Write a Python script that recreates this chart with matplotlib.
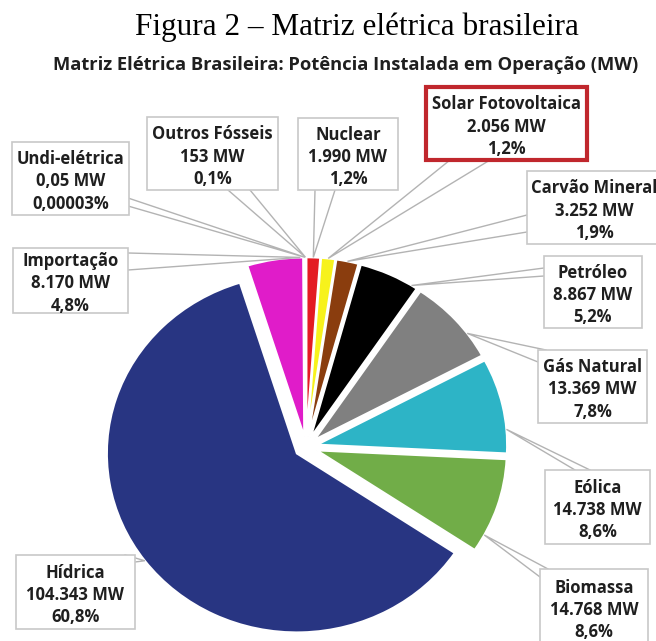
import numpy as np
import matplotlib
matplotlib.use("Agg")
import matplotlib.pyplot as plt
from matplotlib.patches import Rectangle

# dados (MW)
labels = ["Nuclear", "Solar Fotovoltaica", "Carvão Mineral", "Petróleo", "Gás Natural",
          "Eólica", "Biomassa", "Hídrica", "Importação", "Undi-elétrica", "Outros Fósseis"]
mw = [1990, 2056, 3252, 8867, 13369, 14738, 14768, 104343, 8170, 0.05, 153]
mw_text = ["1.990 MW", "2.056 MW", "3.252 MW", "8.867 MW", "13.369 MW", "14.738 MW",
           "14.768 MW", "104.343 MW", "8.170 MW", "0,05 MW", "153 MW"]
pct_text = ["1,2%", "1,2%", "1,9%", "5,2%", "7,8%", "8,6%", "8,6%", "60,8%", "4,8%",
            "0,00003%", "0,1%"]
colors = ["#e31b23", "#f7f21c", "#8a3d0e", "#000000", "#808080", "#2db4c6",
          "#71ad48", "#283582", "#e01cc9", "#c9a0dc", "#f2a0c8"]

# layout das caixas em pixels (x0, y0, w, h), pontos da base do callout,
# e onde a seta toca a fatia (fração do ângulo da fatia)
boxes = [(298, 118, 100, 72), (426, 87, 161, 73), (527, 171, 140, 73), (544, 256, 98, 72),
         (538, 350, 109, 73), (545, 470, 105, 74), (540, 569, 108, 76), (16, 555, 119, 74),
         (13, 248, 115, 65), (12, 142, 117, 73), (147, 117, 131, 73)]
bases = [((315, 190), (335, 190)), ((450, 160), (490, 160)), ((527, 215), (527, 232)),
         ((544, 268), (544, 276)), ((546, 350), (538, 362)), ((575, 470), (590, 470)),
         ((548, 569), (540, 577)), ((125, 555), (135, 562)), ((128, 253), (128, 270)),
         ((128, 198), (128, 206)), ((228, 190), (250, 190))]
touch = [0.5, 0.5, 0.5, 0.9, 0.7, 0.75, 0.82, 0.5, 0.95, 0.5, 0.5]

W, H = 656, 641
fig = plt.figure(figsize=(W / 100, H / 100), dpi=100)

# pie (levemente esticado na horizontal, como no original)
cx, cy = 306, 447
rx, ry = 190, 179
lim = 1.3
ax_pie = fig.add_axes([(cx - lim * rx) / W, (H - cy - lim * ry) / H,
                       2 * lim * rx / W, 2 * lim * ry / H])
wedges, _ = ax_pie.pie(mw, colors=colors, startangle=90, counterclock=False,
                       explode=[0.06] * len(mw),
                       wedgeprops=dict(edgecolor="white", linewidth=1.5))
ax_pie.set_aspect("auto")
ax_pie.set_xlim(-lim, lim)
ax_pie.set_ylim(-lim, lim)
ax_pie.axis("off")

# camada de anotações em pixels
ax = fig.add_axes([0, 0, 1, 1], zorder=5)
ax.set_xlim(0, W)
ax.set_ylim(H, 0)
ax.axis("off")

fam = ["Open Sans", "DejaVu Sans"]
for i, w in enumerate(wedges):
    a = np.deg2rad(w.theta2 - touch[i] * (w.theta2 - w.theta1))
    px = w.center[0] + w.r * np.cos(a)
    py = w.center[1] + w.r * np.sin(a)
    dx, dy = ax_pie.transData.transform((px, py))
    tx, ty = ax.transData.inverted().transform((dx, dy))
    b1, b2 = bases[i]
    ax.plot([b1[0], tx, b2[0]], [b1[1], ty, b2[1]], color="#b3b3b3", lw=1.0,
            solid_joinstyle="miter", clip_on=False)

    x0, y0, bw, bh = boxes[i]
    red = labels[i].startswith("Solar")
    ax.add_patch(Rectangle((x0, y0), bw, bh, facecolor="white",
                           edgecolor="#c0272d" if red else "#c8c8c8",
                           lw=3 if red else 1.2, zorder=3, clip_on=False))
    ax.text(x0 + bw / 2 if i != 2 else 594, y0 + bh / 2 + 3,
            f"{labels[i]}\n{mw_text[i]}\n{pct_text[i]}",
            ha="center", va="center", fontsize=12, fontweight="bold",
            family=fam, color="#1f1f1f", linespacing=1.3, zorder=4)

fig.text(357 / W, 1 - 35 / H, "Figura 2 – Matriz elétrica brasileira",
         ha="center", va="baseline", fontsize=22.5, family="Liberation Serif")
fig.text(346 / W, 1 - 70 / H, "Matriz Elétrica Brasileira: Potência Instalada em Operação (MW)",
         ha="center", va="baseline", fontsize=13.2, fontweight="bold", family=fam,
         color="#1f1f1f")

fig.savefig("out.png", dpi=100)
